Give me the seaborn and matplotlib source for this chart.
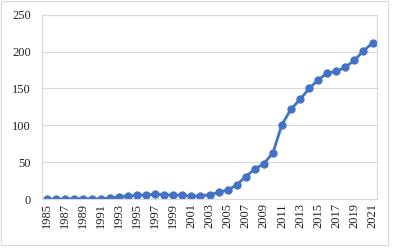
import pandas as pd
import matplotlib.pyplot as plt
import seaborn as sns
from matplotlib.patches import Rectangle

# Data
years = list(range(1985, 2022))
values = [0, 0, 0, 0.5, 0.5, 0, 0.5, 1, 3, 4, 5, 5.5, 6.5, 6, 5, 5.5, 3.5, 4.5, 5.5, 9,
          12, 19, 30.5, 40.5, 48, 62.5, 101, 122, 135, 150, 161.5, 171, 173, 179, 188, 201, 211.5]
y_ticks = [0, 50, 100, 150, 200, 250]

data = pd.DataFrame({'year': years, 'value': values})

sns.set_style("white")
plt.rcParams['font.family'] = ['Liberation Serif', 'DejaVu Serif']

fig = plt.figure(figsize=(3.94, 2.49), dpi=100)
ax = fig.add_axes([0.1066, 0.2008, 0.8504, 0.7402])

sns.lineplot(x='year', y='value', data=data, ax=ax, color='#4472C4',
             marker='o', markersize=6, markeredgewidth=0, linewidth=2)

ax.set_xlim(1984.5, 2021.5)
ax.set_ylim(0, 250)
ax.set_yticks(y_ticks)
ax.set_xticks(years[::2])
ax.set_xticklabels([str(y) for y in years[::2]], rotation=90)
ax.tick_params(axis='both', labelsize=9, labelcolor='#222222', length=0, pad=3)
ax.tick_params(axis='y', pad=8)
ax.yaxis.grid(True, color='#d9d9d9', linewidth=0.8)
ax.set_axisbelow(True)
ax.set_xlabel('')
ax.set_ylabel('')
for s in ax.spines.values():
    s.set_visible(True)
    s.set_color('#d9d9d9')
    s.set_linewidth(0.8)

# outer chart border
fig.patches.append(Rectangle((0.003, 0.016), 0.982, 0.978, transform=fig.transFigure,
                             fill=False, edgecolor='#d9d9d9', linewidth=0.8))

fig.savefig('out.png', dpi=100)
plt.close()
